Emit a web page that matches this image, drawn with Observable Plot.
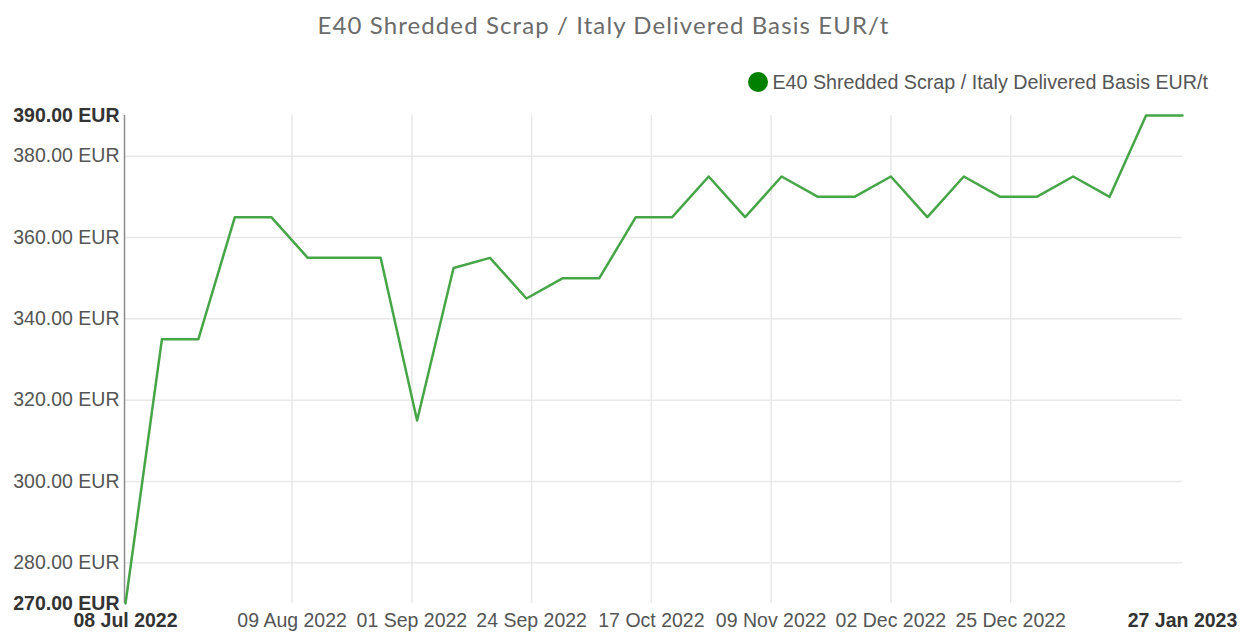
<!DOCTYPE html>
<html>
<head>
<meta charset="utf-8">
<script src="https://cdn.jsdelivr.net/npm/d3@7"></script>
<script src="https://cdn.jsdelivr.net/npm/@observablehq/plot@0.6"></script>
<style>
  html, body { margin: 0; padding: 0; background: #fff; }
  #wrap { position: relative; width: 1251px; height: 633px; overflow: hidden; }
  #title { position: absolute; left: 0; top: 8px; width: 1207px; text-align: center;
    font-family: Lato, "Open Sans", sans-serif; font-size: 24px; letter-spacing: 1.1px; color: #6b6b6b; line-height: 34px; }
  #legend { position: absolute; right: 43px; top: 69px; height: 26px; display: flex; align-items: center;
    font-family: "Liberation Sans", Arial, sans-serif; font-size: 19.7px; color: #555; }
  #legend .dot { width: 20px; height: 20px; border-radius: 50%; background: #008000; margin-right: 4px; }
  #chart { position: absolute; left: 0; top: 100px; }
</style>
</head>
<body>
<div id="wrap">
  <div id="title">E40 Shredded Scrap / Italy Delivered Basis EUR/t</div>
  <div id="legend"><span class="dot"></span><span>E40 Shredded Scrap / Italy Delivered Basis EUR/t</span></div>
  <div id="chart"></div>
</div>
<script>
const dates = ["2022-07-08","2022-07-15","2022-07-22","2022-07-29","2022-08-05","2022-08-12","2022-08-19","2022-08-26",
  "2022-09-02","2022-09-09","2022-09-16","2022-09-23","2022-09-30","2022-10-07","2022-10-14","2022-10-21",
  "2022-10-28","2022-11-04","2022-11-11","2022-11-18","2022-11-25","2022-12-02","2022-12-09","2022-12-16",
  "2022-12-23","2022-12-30","2023-01-06","2023-01-13","2023-01-20","2023-01-27"];
const prices = [270,335,335,365,365,355,355,355,
  315,352.5,355,345,350,350,365,365,
  375,365,375,370,370,375,365,375,
  370,370,375,370,390,390];
const yTicks = [280,300,320,340,360,380];
const yEndTicks = [270,390];
const xTicks = ["2022-08-09","2022-09-01","2022-09-24","2022-10-17","2022-11-09","2022-12-02","2022-12-25"];
const xEndTicks = ["2022-07-08","2023-01-27"];

const parse = d3.utcParse("%Y-%m-%d");
const data = dates.map((d, i) => ({date: parse(d), price: prices[i]}));
const fmtY = d => d.toFixed(2) + " EUR";
const fmtX = d3.utcFormat("%d %b %Y");
const xT = xTicks.map(parse);
const xE = xEndTicks.map(parse);

const chart = Plot.plot({
  width: 1251,
  height: 533,
  marginTop: 15,
  marginBottom: 30,
  marginLeft: 125,
  marginRight: 69,
  style: {fontFamily: "'Liberation Sans', Arial, sans-serif", fontSize: "19.5px", background: "white"},
  x: {type: "utc", domain: [parse(dates[0]), parse(dates[dates.length - 1])], label: null},
  y: {domain: [270, 390], label: null},
  marks: [
    Plot.gridY(yTicks, {stroke: "#e8e8e8", strokeOpacity: 1, strokeWidth: 1.5}),
    Plot.gridX(xT, {stroke: "#e8e8e8", strokeOpacity: 1, strokeWidth: 1.5}),
    Plot.ruleX([parse(dates[0])], {stroke: "#8c8c8c", strokeWidth: 1.5, dx: -1}),
    Plot.axisY(yTicks, {tickSize: 0, tickPadding: 6, tickFormat: fmtY, fill: "#555", fontSize: 19.5}),
    Plot.axisY(yEndTicks, {tickSize: 0, tickPadding: 6, tickFormat: fmtY, fill: "#333", fontSize: 19.5, fontWeight: "bold"}),
    Plot.axisX(xT, {tickSize: 0, tickPadding: 10, tickFormat: fmtX, fill: "#555", fontSize: 19.5}),
    Plot.axisX(xE, {tickSize: 0, tickPadding: 10, tickFormat: fmtX, fill: "#333", fontSize: 19.5, fontWeight: "bold"}),
    Plot.line(data, {x: "date", y: "price", stroke: "#46a546", strokeWidth: 2.5})
  ]
});
document.getElementById("chart").appendChild(chart);
</script>
</body>
</html>
